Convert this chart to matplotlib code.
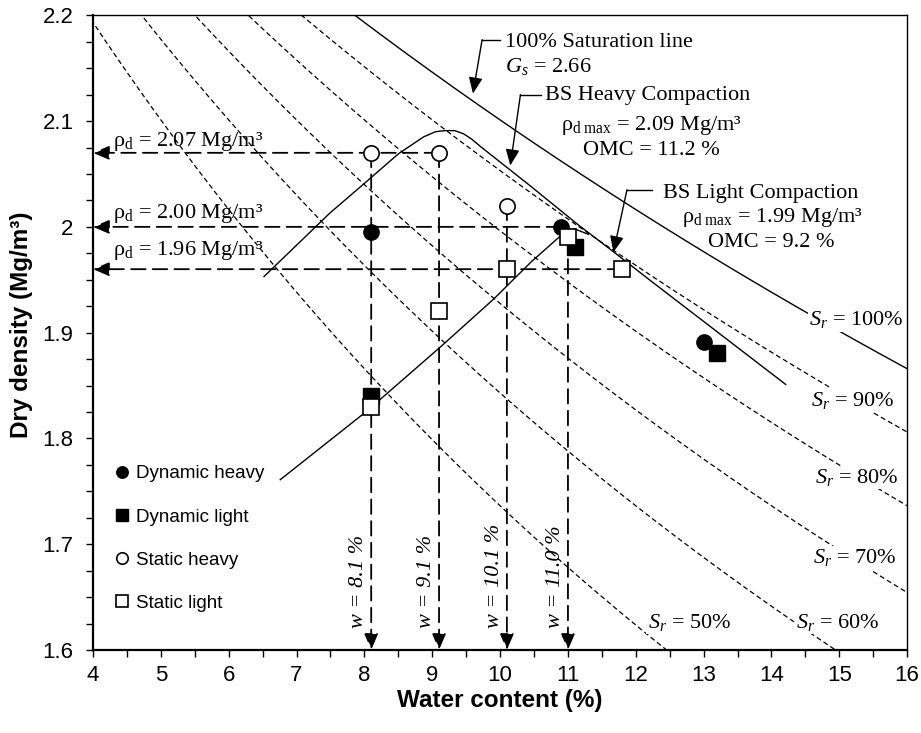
import numpy as np
import matplotlib
matplotlib.use("Agg")
import matplotlib.pyplot as plt
from matplotlib.ticker import MultipleLocator

plt.rcParams['font.family'] = 'Liberation Sans'
plt.rcParams['mathtext.fontset'] = 'custom'
plt.rcParams['mathtext.rm'] = 'Liberation Serif'
plt.rcParams['mathtext.it'] = 'Liberation Serif:italic'
plt.rcParams['mathtext.bf'] = 'Liberation Serif:bold'

# soil constants and saturation levels
Gs = 2.66
rho_w = 1.0
Sr_levels = [100, 90, 80, 70, 60, 50]
Sr_label_pos = [(15.25, 1.912), (15.19, 1.836), (15.26, 1.763),
                (15.23, 1.687), (14.98, 1.626), (12.79, 1.626)]

# compaction curves
heavy_w = [6.52, 7.49, 7.98, 8.50, 8.87, 9.05, 9.19, 9.33, 9.46, 9.58, 9.71,
           10.44, 11.15, 11.7, 12.22, 14.21]
heavy_rho = [1.953, 2.013, 2.040, 2.069, 2.085, 2.090, 2.091, 2.091, 2.088, 2.083, 2.076,
             2.039, 2.002, 1.975, 1.949, 1.851]
light_w = [6.76, 8.02, 9.13, 9.91, 10.46, 10.97, 11.1, 11.3]
light_rho = [1.761, 1.825, 1.887, 1.932, 1.967, 1.996, 1.998, 1.993]

# test results
dyn_heavy_w = [8.1, 10.9, 13.0]
dyn_heavy_rho = [1.995, 2.00, 1.891]
dyn_light_w = [8.1, 11.1, 13.2]
dyn_light_rho = [1.84, 1.981, 1.881]
sta_heavy_w = [8.1, 9.1, 10.1]
sta_heavy_rho = [2.07, 2.07, 2.02]
sta_light_w = [8.1, 9.1, 10.1, 11.0, 11.8]
sta_light_rho = [1.83, 1.92, 1.96, 1.99, 1.96]

# projection arrows
w_marks = [8.1, 9.1, 10.1, 11.0]
w_from = [2.07, 2.07, 2.02, 1.99]
rho_marks = [2.07, 2.00, 1.96]
rho_from = [9.1, 10.9, 11.8]
rho_text_y = [2.076, 2.008, 1.973]

fig = plt.figure(figsize=(9.21, 7.33), dpi=100)
ax = fig.add_axes([0.101, 0.1133, 0.884, 0.8658])
ax.set_xlim(4, 16)
ax.set_ylim(1.6, 2.2)

serif = 'Liberation Serif'

# saturation lines
w_grid = np.linspace(3.5, 16.5, 400)
for Sr, (lx, ly) in zip(Sr_levels, Sr_label_pos):
    rho = Gs * rho_w / (1 + (w_grid / 100) * Gs / (Sr / 100))
    if Sr == 100:
        ax.plot(w_grid, rho, color='black', lw=1.0, zorder=2)
    else:
        ax.plot(w_grid, rho, color='black', lw=0.9, ls=(0, (4, 2.5)), zorder=2)
    ax.text(lx, ly, '$S_r$ = %d%%' % Sr, family=serif, fontsize=16,
            ha='center', va='center', zorder=3,
            bbox=dict(facecolor='white', edgecolor='none', pad=1))

# compaction curves
ax.plot(heavy_w, heavy_rho, color='black', lw=1.0, zorder=4)
ax.plot(light_w, light_rho, color='black', lw=1.0, zorder=4)

# dashed projections to the axes
dash_arrow = dict(arrowstyle='-|>,head_length=0.7,head_width=0.3', color='black',
                  lw=1.3, linestyle=(0, (8, 4)), shrinkA=0, shrinkB=0,
                  mutation_scale=14)
for w, y0 in zip(w_marks, w_from):
    ax.annotate('', xy=(w, 1.6), xytext=(w, y0), arrowprops=dash_arrow, zorder=5)
    ax.text(w - 0.04, 1.621, 'w = %.1f %%' % w, family=serif, fontsize=16,
            style='italic', rotation=90, ha='right', va='bottom')
for r, x0, ty in zip(rho_marks, rho_from, rho_text_y):
    ax.annotate('', xy=(4, r), xytext=(x0, r), arrowprops=dash_arrow, zorder=5)
    ax.text(4.30, ty, r'ρ$_\mathrm{d}$ = %.2f Mg/m³' % r, family=serif,
            fontsize=16, ha='left', va='baseline', zorder=6)

# markers
ms = 11
ax.plot(dyn_heavy_w, dyn_heavy_rho, 'o', color='black', ms=ms, ls='none',
        zorder=7, label='Dynamic heavy')
ax.plot(dyn_light_w, dyn_light_rho, 's', color='black', ms=ms, ls='none',
        zorder=7, label='Dynamic light')
ax.plot(sta_heavy_w, sta_heavy_rho, 'o', mfc='white', mec='black', mew=1.2,
        ms=ms, ls='none', zorder=7, label='Static heavy')
ax.plot(sta_light_w, sta_light_rho, 's', mfc='white', mec='black', mew=1.2,
        ms=ms, ls='none', zorder=7, label='Static light')

# leader annotations
lead = dict(arrowstyle='-|>,head_length=0.7,head_width=0.3', color='black',
            lw=1.0, shrinkA=0, shrinkB=0, mutation_scale=14)
ax.plot([10.0, 9.735], [2.177, 2.177], color='black', lw=1.0)
ax.annotate('', xy=(9.60, 2.126), xytext=(9.735, 2.177), arrowprops=lead)
ax.text(10.07, 2.170, '100% Saturation line', family=serif, fontsize=16, va='baseline')
ax.text(10.07, 2.146, '$G_s$ = 2.66', family=serif, fontsize=16, va='baseline')

ax.plot([10.6, 10.30], [2.125, 2.125], color='black', lw=1.0)
ax.annotate('', xy=(10.15, 2.058), xytext=(10.30, 2.125), arrowprops=lead)
ax.text(10.66, 2.120, 'BS Heavy Compaction', family=serif, fontsize=16, va='baseline')
ax.text(12.23, 2.0915, r'ρ$_\mathrm{d\ max}$ = 2.09 Mg/m³', family=serif,
        fontsize=16, ha='center', va='baseline')
ax.text(12.23, 2.068, 'OMC = 11.2 %', family=serif, fontsize=16, ha='center',
        va='baseline')

ax.plot([12.24, 11.87], [2.035, 2.035], color='black', lw=1.0)
ax.annotate('', xy=(11.67, 1.976), xytext=(11.87, 2.035), arrowprops=lead)
ax.text(12.40, 2.027, 'BS Light Compaction', family=serif, fontsize=16, va='baseline')
ax.text(14.01, 2.005, r'ρ$_\mathrm{d\ max}$ = 1.99 Mg/m³', family=serif,
        fontsize=16, ha='center', va='baseline')
ax.text(14.0, 1.981, 'OMC = 9.2 %', family=serif, fontsize=16, ha='center',
        va='baseline')

# axes styling
ax.xaxis.set_major_locator(MultipleLocator(1))
ax.xaxis.set_minor_locator(MultipleLocator(0.5))
ax.yaxis.set_major_locator(MultipleLocator(0.1))
ax.yaxis.set_minor_locator(MultipleLocator(0.025))
ax.yaxis.set_major_formatter(plt.FuncFormatter(lambda v, p: '%g' % round(v, 2)))
ax.tick_params(which='both', direction='out', length=5, width=1.0, labelsize=16)
ax.tick_params(axis='y', pad=9)
ax.tick_params(axis='x', pad=6)
for s in ['left', 'bottom']:
    ax.spines[s].set_linewidth(1.6)
for s in ['top', 'right']:
    ax.spines[s].set_linewidth(1.0)

lab_font = dict(family='Liberation Sans', weight='bold', fontsize=17.5)
ax.set_xlabel('Water content (%)', **lab_font)
ax.set_ylabel('Dry density (Mg/m³)', **lab_font)
ax.xaxis.set_label_coords(0.5, -0.062)
ax.yaxis.set_label_coords(-0.074, 0.513)

ax.legend(loc='upper left', bbox_to_anchor=(0.0246, 0.291), frameon=False,
          fontsize=13.5, handlelength=1.0, handletextpad=0.2, labelspacing=1.39,
          borderpad=0, borderaxespad=0, markerscale=0.75)

fig.savefig('out.png', dpi=100)
